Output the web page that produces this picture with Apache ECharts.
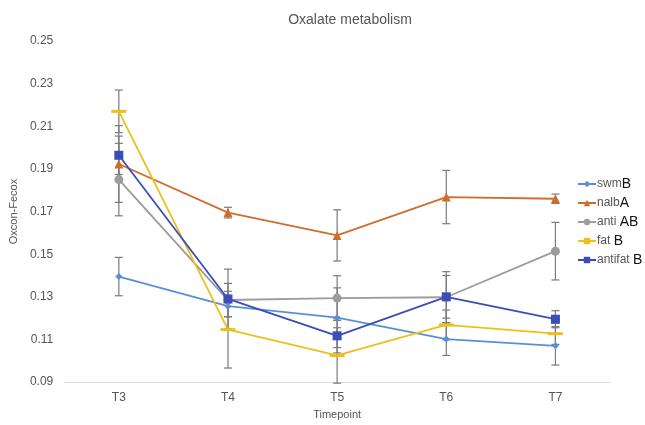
<!DOCTYPE html>
<html>
<head>
<meta charset="utf-8">
<script src="https://cdn.jsdelivr.net/npm/echarts@6/dist/echarts.min.js"></script>
<style>html,body{margin:0;padding:0;background:#fff;}#c{width:645px;height:425px;}</style>
</head>
<body>
<div id="c"></div>
<script>
const categories = ['T3', 'T4', 'T5', 'T6', 'T7'];
const yTicks = [0.09, 0.25, 0.02]; // min, max, step
const swm = [0.1395, 0.1256, 0.1202, 0.1102, 0.107];
const swmErr = [0.009, 0.005, 0.014, 0.0077, 0.009];
const nalb = [0.1923, 0.1695, 0.1588, 0.1768, 0.176];
const nalbErr = [0.018, 0.0025, 0.012, 0.0125, 0.0022];
const anti = [0.185, 0.1285, 0.1294, 0.1298, 0.1514];
const antiErr = [0.017, 0.0078, 0.0105, 0.012, 0.0135];
const fat = [0.217, 0.1146, 0.1025, 0.1168, 0.1127];
const fatErr = [0.010, 0.018, 0.013, 0.007, 0.005];
const antifat = [0.1964, 0.129, 0.1117, 0.130, 0.1195];
const antifatErr = [0.009, 0.014, 0.008, 0.010, 0.004];
const seriesNames = ['swm', 'nalb', 'anti', 'fat', 'antifat'];
const groupLetters = ['B', 'A', 'AB', 'B', 'B'];
const nameSep = ['', '', ' ', ' ', ' '];

const colors = ['#5B8ED8', '#CF6E2C', '#9C9C9C', '#EDC018', '#3B4DB8'];
const symbols = ['diamond', 'triangle', 'circle', 'rect', 'rect'];
const symbolSizes = [7, 9, 9, [15, 3], 9];
const values = [swm, nalb, anti, fat, antifat];
const errs = [swmErr, nalbErr, antiErr, fatErr, antifatErr];

const errData = [];
values.forEach((v, s) => v.forEach((val, i) => errData.push([i, val - errs[s][i], val + errs[s][i]])));

const font = 'Liberation Sans, Arial, sans-serif';
const chart = echarts.init(document.getElementById('c'));
const series = [{
  type: 'custom',
  data: errData,
  z: 1,
  silent: true,
  renderItem: function (params, api) {
    const x = api.value(0);
    const lo = api.coord([x, api.value(1)]);
    const hi = api.coord([x, api.value(2)]);
    const hw = 4;
    const st = { stroke: '#7a7a7a', lineWidth: 1.2 };
    return {
      type: 'group',
      children: [
        { type: 'line', shape: { x1: lo[0], y1: lo[1], x2: hi[0], y2: hi[1] }, style: st },
        { type: 'line', shape: { x1: lo[0] - hw, y1: lo[1], x2: lo[0] + hw, y2: lo[1] }, style: st },
        { type: 'line', shape: { x1: hi[0] - hw, y1: hi[1], x2: hi[0] + hw, y2: hi[1] }, style: st }
      ]
    };
  }
}];
seriesNames.forEach((n, s) => {
  series.push({
    name: n,
    type: 'line',
    data: values[s],
    z: 3,
    symbol: symbols[s],
    symbolSize: symbolSizes[s],
    showAllSymbol: true,
    lineStyle: { color: colors[s], width: 1.8 },
    itemStyle: { color: colors[s] }
  });
});

chart.setOption({
  animation: false,
  backgroundColor: '#fff',
  title: {
    text: 'Oxalate metabolism',
    left: 345, top: 8, textAlign: 'center',
    textStyle: { fontFamily: font, fontSize: 14, fontWeight: 'normal', color: '#555' }
  },
  grid: { left: 62, right: 35, top: 41, bottom: 31 },
  legend: {
    orient: 'vertical',
    left: 572, top: 172,
    itemGap: 5,
    itemWidth: 18, itemHeight: 8,
    data: seriesNames,
    formatter: function (name) {
      const i = seriesNames.indexOf(name);
      return '{a|' + name + nameSep[i] + '}{b|' + groupLetters[i] + '}';
    },
    textStyle: {
      padding: [0, 0, 0, -4],
      rich: {
        a: { fontFamily: font, fontSize: 12, color: '#555' },
        b: { fontFamily: font, fontSize: 14, color: '#111' }
      }
    }
  },
  xAxis: {
    type: 'category',
    data: categories,
    name: 'Timepoint',
    nameLocation: 'middle',
    nameGap: 26,
    nameTextStyle: { fontFamily: font, fontSize: 11, color: '#555' },
    axisLine: { lineStyle: { color: '#d9d9d9', width: 1 } },
    axisTick: { show: false },
    axisLabel: { fontFamily: font, fontSize: 12, color: '#555', margin: 10 }
  },
  yAxis: {
    type: 'value',
    min: yTicks[0], max: yTicks[1], interval: yTicks[2],
    name: 'Oxcon-Fecox',
    nameLocation: 'middle',
    nameGap: 41,
    nameTextStyle: { fontFamily: font, fontSize: 11, color: '#555' },
    axisLine: { show: false },
    axisTick: { show: false },
    splitLine: { show: false },
    axisLabel: { fontFamily: font, fontSize: 12, color: '#555', margin: 11, formatter: v => v.toFixed(2) }
  },
  series: series
});
</script>
</body>
</html>
